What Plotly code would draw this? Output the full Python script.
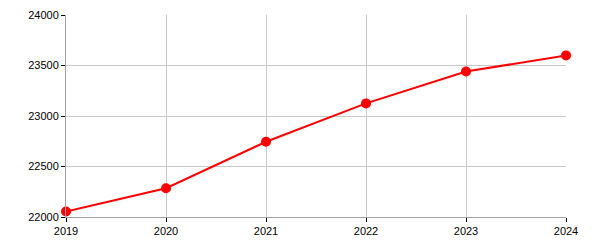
import plotly.graph_objects as go

years = [2019, 2020, 2021, 2022, 2023, 2024]
values = [22055, 22285, 22745, 23125, 23440, 23600]
y_ticks = [22000, 22500, 23000, 23500, 24000]

fig = go.Figure()
fig.add_trace(go.Scatter(
    x=years, y=values, mode="lines+markers",
    line=dict(color="#ff0000", width=2),
    marker=dict(color="#ff0000", size=10),
    hoverinfo="skip", cliponaxis=False,
))
fig.update_layout(
    width=600, height=250,
    margin=dict(l=66, r=34, t=15, b=33, autoexpand=False),
    plot_bgcolor="white", paper_bgcolor="white",
    showlegend=False,
    font=dict(family="Liberation Sans, Arial, sans-serif", size=11, color="black"),
)
fig.update_xaxes(
    range=[2019, 2024], tickvals=years, ticktext=[str(y) for y in years],
    showgrid=True, gridcolor="#c8c8c8", gridwidth=1,
    showline=True, linecolor="#a0a0a0", linewidth=1,
    ticks="outside", ticklen=4, tickcolor="black", zeroline=False,
    automargin=False,
)
fig.update_yaxes(
    range=[22000, 24000], tickvals=y_ticks, ticktext=[str(v) for v in y_ticks],
    showgrid=True, gridcolor="#c8c8c8", gridwidth=1,
    showline=True, linecolor="#a0a0a0", linewidth=1,
    ticks="outside", ticklen=4, tickcolor="black", zeroline=False,
    automargin=False,
)
fig.write_html("out.html")
